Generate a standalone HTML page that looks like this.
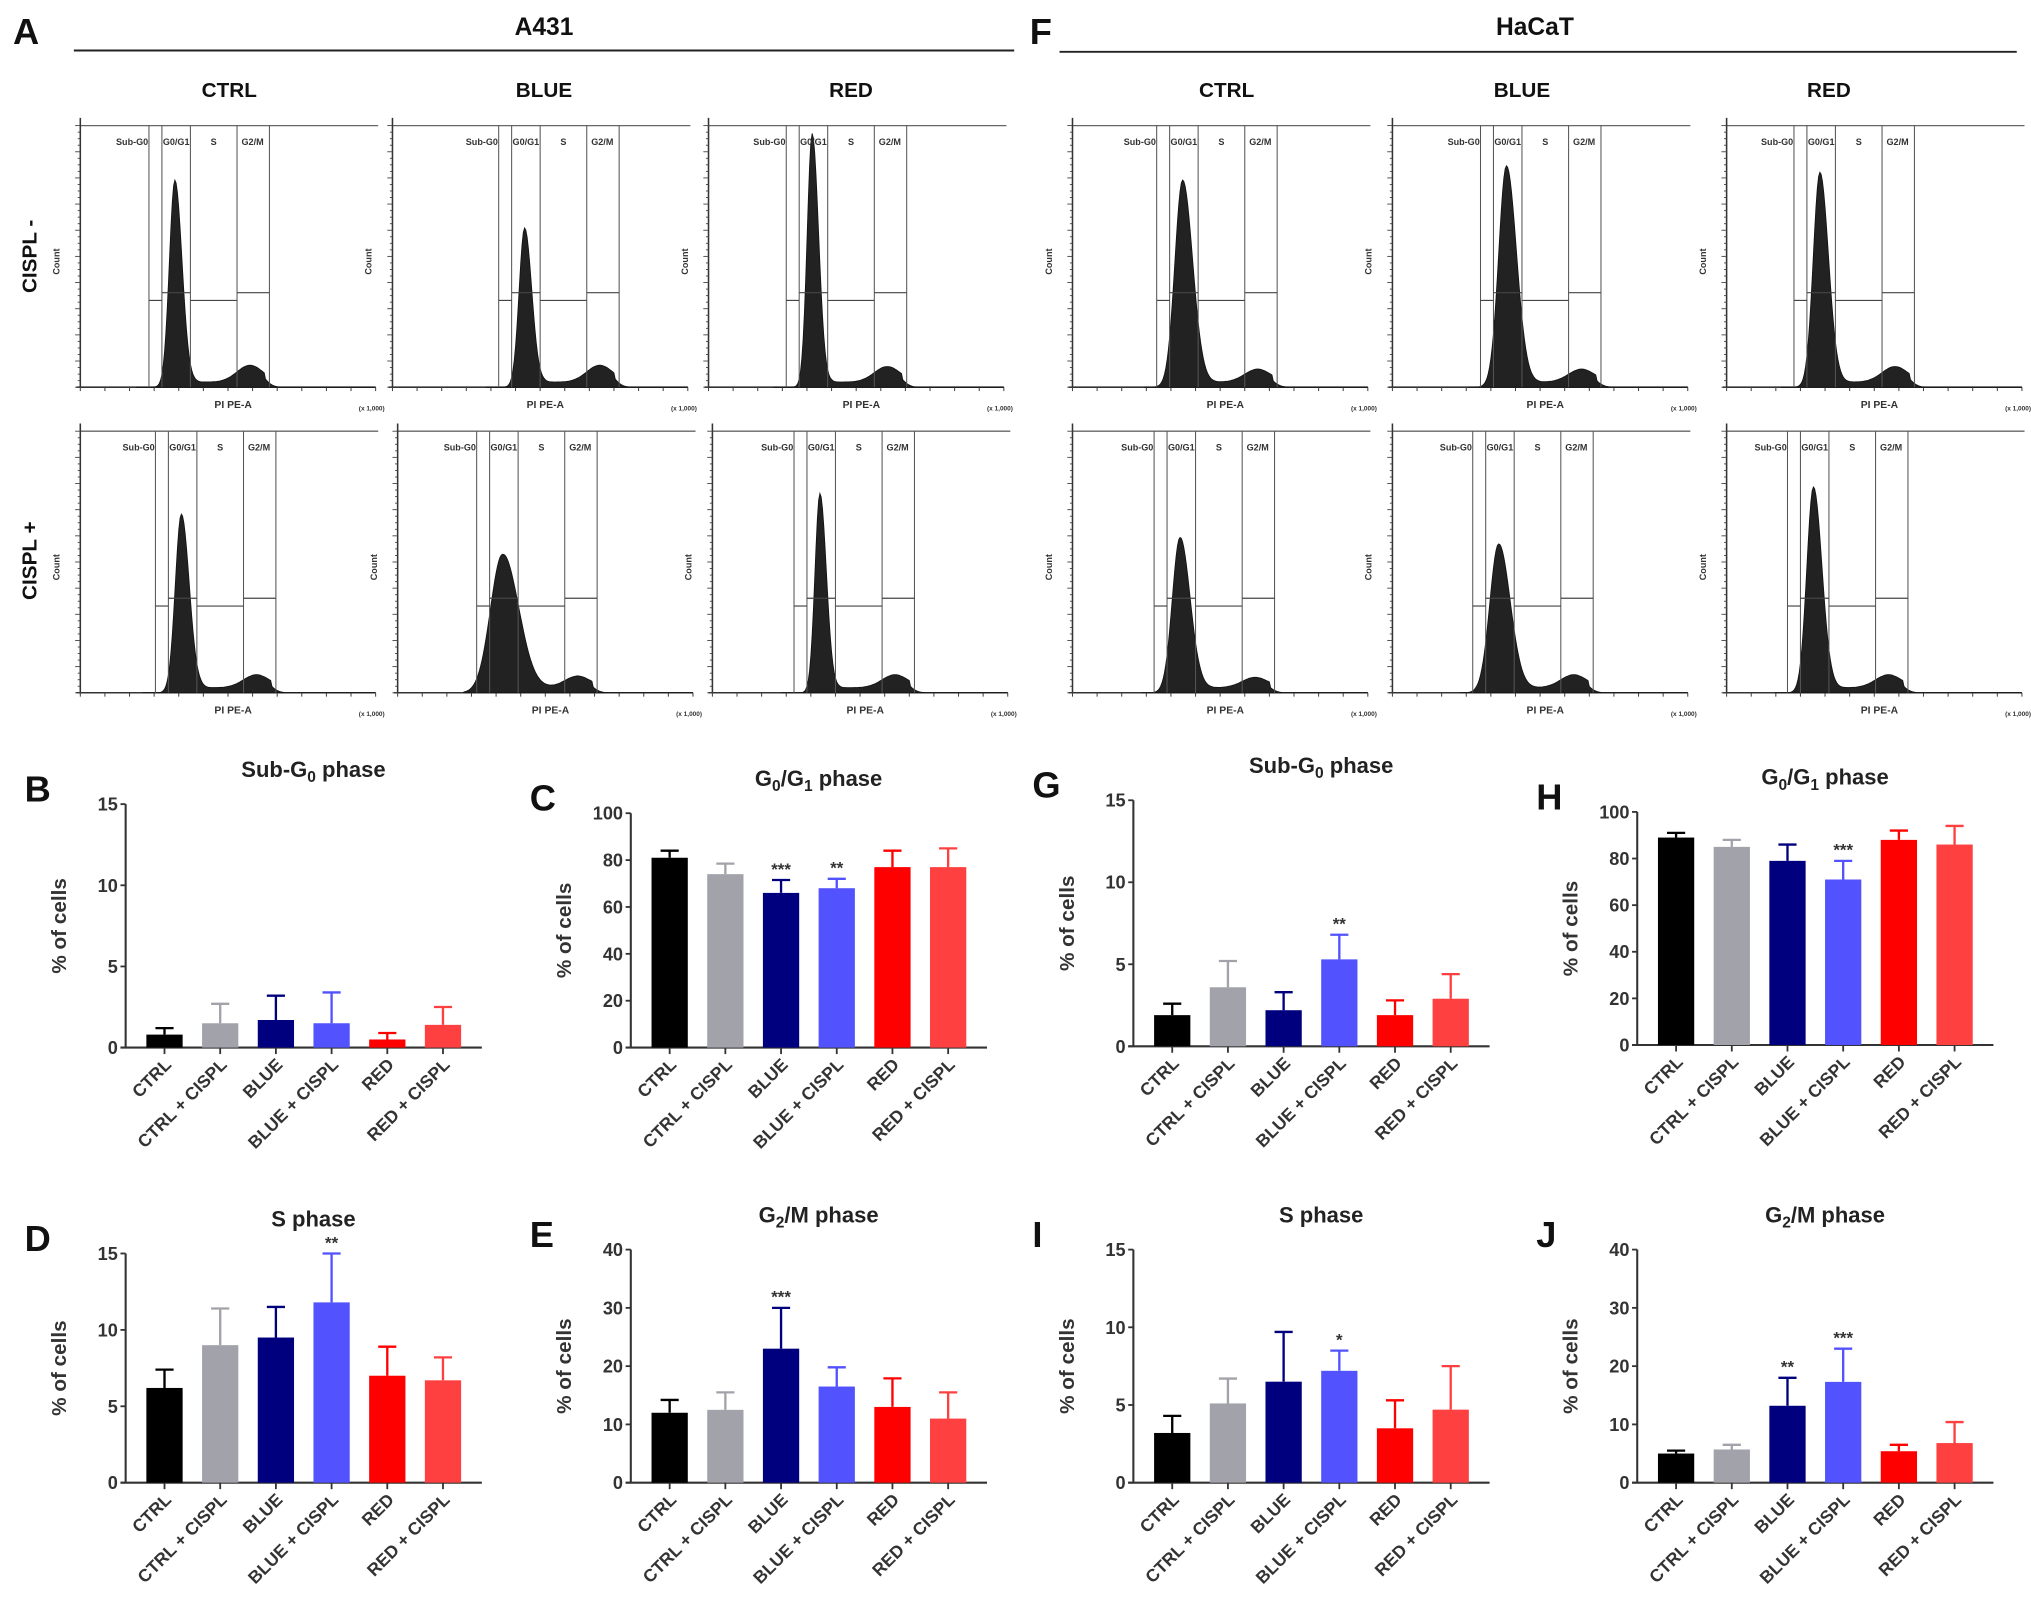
<!DOCTYPE html>
<html><head><meta charset="utf-8">
<style>
html,body{margin:0;padding:0;background:#fff;}
svg{display:block;font-family:"Liberation Sans",Arial,sans-serif;}
</style></head>
<body>
<svg id="fig" width="2031" height="1607" viewBox="0 0 1568 1241" preserveAspectRatio="none" xmlns="http://www.w3.org/2000/svg">
<g id="headers" font-weight="bold" fill="#111">
  <text x="10" y="34" font-size="28">A</text>
  <text x="795" y="34" font-size="28">F</text>
  <text x="420" y="27" font-size="19" text-anchor="middle">A431</text>
  <line x1="57" y1="39" x2="783" y2="39" stroke="#222" stroke-width="1.5"/>
  <text x="1185" y="27" font-size="19" text-anchor="middle">HaCaT</text>
  <line x1="818" y1="40" x2="1557" y2="40" stroke="#222" stroke-width="1.5"/>
  <text x="177" y="75" font-size="16" text-anchor="middle">CTRL</text>
  <text x="420" y="75" font-size="16" text-anchor="middle">BLUE</text>
  <text x="657" y="75" font-size="16" text-anchor="middle">RED</text>
  <text x="947" y="75" font-size="16" text-anchor="middle">CTRL</text>
  <text x="1175" y="75" font-size="16" text-anchor="middle">BLUE</text>
  <text x="1412" y="75" font-size="16" text-anchor="middle">RED</text>
  <text transform="translate(28,198) rotate(-90)" font-size="16" text-anchor="middle">CISPL -</text>
  <text transform="translate(28,433) rotate(-90)" font-size="16" text-anchor="middle">CISPL +</text>
</g>
<g id="hists"></g>
<g id="bars"></g>
</svg>
<script>
var NS="http://www.w3.org/2000/svg";
function mk(tag,attrs,parent,txt){var e=document.createElementNS(NS,tag);for(var k in attrs)e.setAttribute(k,attrs[k]);if(txt!==undefined)e.textContent=txt;parent.appendChild(e);return e;}

// ---------- histogram params ----------
var histLeft=[62,303,547,828,1075,1333,62,307,550,828,1075,1333];
var histRow=[0,0,0,0,0,0,1,1,1,1,1,1];
var histPeakX=[135,405,627,913,1163,1405,140,388,633,911,1157,1400];
var histPeakH=[160,123,196,160,171,166,138,107,154,120,115,159];
var histPeakW=[5,5,4.5,7,7,6,5.5,11,4.5,7,8,6];
var histG2H=[13,13,12,10,10,12,10,9,10,8,10,10];
var histTop=[97,333];
var histBase=[299,535];

var hg=document.getElementById('hists');
for(var i=0;i<histLeft.length;i++){
  var x0=histLeft[i], ytop=histTop[histRow[i]], base=histBase[histRow[i]], p=histPeakX[i];
  var g=mk('g',{},hg);
  
  
  mk('line',{x1:x0,y1:ytop,x2:x0+230,y2:ytop,stroke:'#666','stroke-width':1},g);
  mk('line',{x1:x0,y1:ytop-6,x2:x0,y2:base,stroke:'#333','stroke-width':1.2},g);
  mk('line',{x1:x0-3,y1:base,x2:x0+228,y2:base,stroke:'#333','stroke-width':1.2},g);
  for(var t=0;t<=40;t++){var yy=ytop+(base-ytop)*t/40;mk('line',{x1:x0-(t%4==0?4:2),y1:yy,x2:x0,y2:yy,stroke:'#444','stroke-width':0.7},g);}
  for(var t=0;t<=12;t++){var xx=x0+t*19;mk('line',{x1:xx,y1:base,x2:xx,y2:base+3,stroke:'#444','stroke-width':0.8},g);}
  var d='M'+(p-30)+' '+base;
  for(var x=p-30;x<=x0+228;x+=1){
    var s=x<p?histPeakW[i]*0.85:histPeakW[i]*1.1;
    var y=histPeakH[i]*Math.exp(-Math.pow((x-p)/s,2)/2);
    var pl=(x>p&&x<p+70)?4:0;
    y+=histG2H[i]*Math.exp(-Math.pow((x-(p+58))/10,2)/2)+pl*Math.min(1,(x-p)/15);
    if(x>p+70) y*=Math.max(0,1-(x-p-70)/12);
    d+=' L'+x+' '+(base-y).toFixed(1);
  }
  d+=' L'+(x0+228)+' '+base+' Z';
  var hp=mk('path',{d:d,fill:'#222',stroke:'#111','stroke-width':0.6},g);
  
  
  var gx=[p-20,p-10,p+12,p+48,p+73];
  for(var k=0;k<5;k++) mk('line',{x1:gx[k],y1:ytop,x2:gx[k],y2:base,stroke:'#555','stroke-width':0.8},g);
  var gy=[base-67,base-73,base-67,base-73];
  for(var k=0;k<4;k++) mk('line',{x1:gx[k],y1:gy[k],x2:gx[k+1],y2:gy[k],stroke:'#444','stroke-width':0.9},g);
  var lab=['Sub-G0','G0/G1','S','G2/M'], lx=[p-33,p+1,p+30,p+60];
  for(var k=0;k<4;k++) mk('text',{x:lx[k],y:ytop+15,'font-size':7,'font-weight':'bold','text-anchor':'middle',fill:'#333'},g,lab[k]);
  mk('text',{transform:'translate('+(x0-16)+','+(ytop+105)+') rotate(-90)','font-size':7,'font-weight':'bold','text-anchor':'middle',fill:'#333'},g,'Count');
  mk('text',{x:x0+118,y:base+16,'font-size':8,'font-weight':'bold','text-anchor':'middle',fill:'#333'},g,'PI PE-A');
  mk('text',{x:x0+225,y:base+18,'font-size':5,'font-weight':'bold','text-anchor':'middle',fill:'#333'},g,'(x 1,000)');
}

// ---------- bar chart data ----------
var categories=['CTRL','CTRL + CISPL','BLUE','BLUE + CISPL','RED','RED + CISPL'];
var colors=['#000000','#a2a2aa','#00007e','#5252ff','#ff0000','#ff4040'];
var B_mean=[0.8,1.5,1.7,1.5,0.5,1.4];
var B_top=[1.2,2.7,3.2,3.4,0.9,2.5];
var C_mean=[81,74,66,68,77,77];
var C_top=[84,78.5,71.5,72,84,85];
var G_mean=[1.9,3.6,2.2,5.3,1.9,2.9];
var G_top=[2.6,5.2,3.3,6.8,2.8,4.4];
var H_mean=[89,85,79,71,88,86];
var H_top=[91,88,86,79,92,94];
var D_mean=[6.2,9.0,9.5,11.8,7.0,6.7];
var D_top=[7.4,11.4,11.5,15.0,8.9,8.2];
var E_mean=[12,12.5,23,16.5,13,11];
var E_top=[14.2,15.5,30,19.8,17.9,15.5];
var I_mean=[3.2,5.1,6.5,7.2,3.5,4.7];
var I_top=[4.3,6.7,9.7,8.5,5.3,7.5];
var J_mean=[5,5.7,13.2,17.3,5.4,6.8];
var J_top=[5.5,6.5,18,23,6.5,10.4];
var ticks15=[0,5,10,15];
var ticks100=[0,20,40,60,80,100];
var ticks40=[0,10,20,30,40];
var C_stars=['','','***','**','',''];
var G_stars=['','','','**','',''];
var H_stars=['','','','***','',''];
var D_stars=['','','','**','',''];
var E_stars=['','','***','','',''];
var I_stars=['','','','*','',''];
var J_stars=['','','**','***','',''];
var none=['','','','','',''];

var charts=[
 {id:'b',letter:'B',title:['Sub-G','0',' phase'],ax:97,y0:809,yt:621,max:15,ticks:ticks15,mean:B_mean,top:B_top,stars:none},
 {id:'c',letter:'C',title:['G','0','/G','1',' phase'],ax:487,y0:809,yt:628,max:100,ticks:ticks100,mean:C_mean,top:C_top,stars:C_stars},
 {id:'g',letter:'G',title:['Sub-G','0',' phase'],ax:875,y0:808,yt:618,max:15,ticks:ticks15,mean:G_mean,top:G_top,stars:G_stars},
 {id:'h',letter:'H',title:['G','0','/G','1',' phase'],ax:1264,y0:807,yt:627,max:100,ticks:ticks100,mean:H_mean,top:H_top,stars:H_stars},
 {id:'d',letter:'D',title:['S phase'],ax:97,y0:1145,yt:968,max:15,ticks:ticks15,mean:D_mean,top:D_top,stars:D_stars},
 {id:'e',letter:'E',title:['G','2','/M phase'],ax:487,y0:1145,yt:965,max:40,ticks:ticks40,mean:E_mean,top:E_top,stars:E_stars},
 {id:'i',letter:'I',title:['S phase'],ax:875,y0:1145,yt:965,max:15,ticks:ticks15,mean:I_mean,top:I_top,stars:I_stars},
 {id:'j',letter:'J',title:['G','2','/M phase'],ax:1264,y0:1145,yt:965,max:40,ticks:ticks40,mean:J_mean,top:J_top,stars:J_stars}
];
var bg=document.getElementById('bars');
charts.forEach(function(c){
  var g=mk('g',{},bg);
  
  
  function ys(v){return c.y0-(c.y0-c.yt)*v/c.max;}
  function xs(i){return c.ax+30+i*43;}
  var L=mk('text',{x:c.ax-78,y:c.yt-2,'font-size':28,'font-weight':'bold',fill:'#111'},g,c.letter);
  
  
  var tt=mk('text',{x:c.ax+145,y:c.yt-21,'font-size':17,'font-weight':'bold','text-anchor':'middle',fill:'#222'},g);
  
  
  c.title.forEach(function(s,k){var ts=mk('tspan',{},tt,s);if(k%2==1){ts.setAttribute('font-size','12');ts.setAttribute('dy','4');}else if(k>0){ts.setAttribute('dy','-4');}});
  var yl=mk('text',{transform:'translate('+(c.ax-46)+','+((c.y0+c.yt)/2)+') rotate(-90)','font-size':16,'font-weight':'bold','text-anchor':'middle',fill:'#333'},g,'% of cells');
  
  
  mk('line',{x1:c.ax,y1:c.yt,x2:c.ax,y2:c.y0,stroke:'#333','stroke-width':1.6},g);
  mk('line',{x1:c.ax-4,y1:c.y0,x2:c.ax+275,y2:c.y0,stroke:'#333','stroke-width':1.6},g);
  c.ticks.forEach(function(t){
    var y=ys(t);
    mk('line',{x1:c.ax-4,y1:y,x2:c.ax,y2:y,stroke:'#333','stroke-width':1.4},g);
    var tl=mk('text',{x:c.ax-6,y:y+5,'font-size':14,'font-weight':'bold','text-anchor':'end',fill:'#333'},g,String(t));
    
    
  });
  categories.forEach(function(cat,i){
    var cx=xs(i), ym=ys(c.mean[i]), yt=ys(c.top[i]);
    var r=mk('rect',{x:cx-14,y:ym,width:28,height:c.y0-ym,fill:colors[i]},g);
    
    
    var eb=mk('path',{d:'M'+cx+' '+ym+' V'+yt+' M'+(cx-7)+' '+yt+' H'+(cx+7),stroke:colors[i],'stroke-width':1.8,fill:'none'},g);
    
    
    mk('line',{x1:cx,y1:c.y0,x2:cx,y2:c.y0+5,stroke:'#333','stroke-width':1.4},g);
    if(c.stars[i]){var st=mk('text',{x:cx,y:yt-4,'font-size':13,'font-weight':'bold','text-anchor':'middle',fill:'#333'},g,c.stars[i]);
      
      }
    var cl=mk('text',{transform:'translate('+(cx+6)+','+(c.y0+14)+') rotate(-45)','font-size':13.5,'font-weight':'bold','text-anchor':'end',fill:'#333'},g,cat);
    
    
  });
});
</script>
</body></html>
